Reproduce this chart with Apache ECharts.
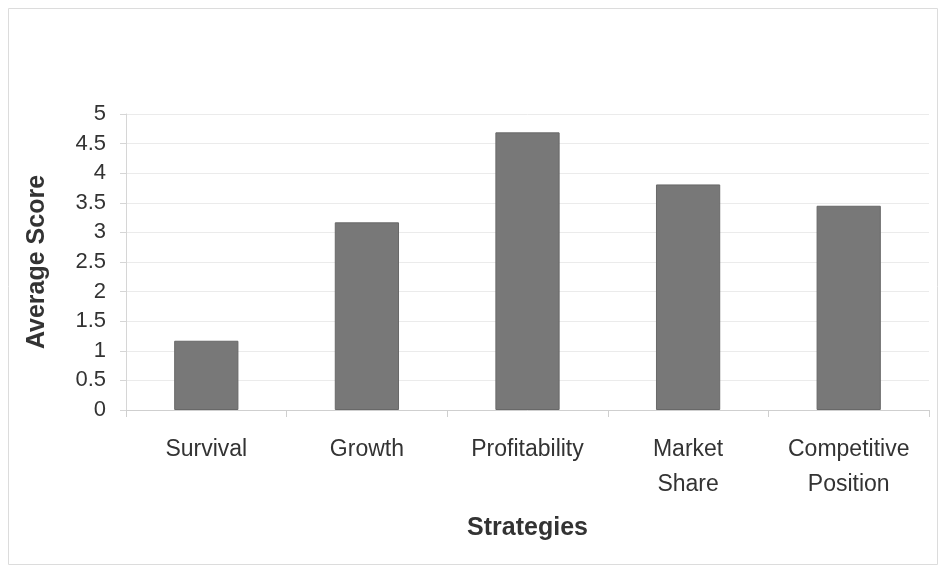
<!DOCTYPE html>
<html>
<head>
<meta charset="utf-8">
<script src="https://cdn.jsdelivr.net/npm/echarts@6/dist/echarts.min.js"></script>
<style>
  html, body { margin: 0; padding: 0; background: #ffffff; }
  #chart { width: 939px; height: 566px; }
</style>
</head>
<body>
<div id="chart"></div>
<script>
// Strategy categories and their average scores
const categories = ['Survival', 'Growth', 'Profitability', 'Market\nShare', 'Competitive\nPosition'];
const averageScores = [1.17, 3.17, 4.69, 3.81, 3.45];
const yTickLabels = ['0', '0.5', '1', '1.5', '2', '2.5', '3', '3.5', '4', '4.5', '5'];

const FONT = '"Liberation Sans", Arial, sans-serif';
const TEXT = '#333333';

const chart = echarts.init(document.getElementById('chart'), null, { renderer: 'canvas' });

chart.setOption({
  backgroundColor: '#ffffff',
  animation: false,
  graphic: [{
    type: 'rect',
    left: 6, top: 6,
    shape: { width: 929, height: 556 },
    style: { fill: 'none', stroke: '#dcdcdc', lineWidth: 1 },
    z: -1
  }],
  grid: { left: 126, right: 10, top: 114, bottom: 156, containLabel: false },
  xAxis: {
    type: 'category',
    data: categories,
    name: 'Strategies',
    nameLocation: 'middle',
    nameGap: 106,
    nameTextStyle: { fontFamily: FONT, fontSize: 25, fontWeight: 'bold', color: TEXT },
    axisLine: { show: true, lineStyle: { color: '#cfcfcf', width: 1 } },
    axisTick: { show: true, alignWithLabel: false, length: 7, lineStyle: { color: '#cfcfcf' } },
    axisLabel: {
      fontFamily: FONT, fontSize: 23, color: TEXT, margin: 22, lineHeight: 35, interval: 0
    },
    splitLine: { show: false }
  },
  yAxis: {
    type: 'value',
    min: 0, max: 5, interval: 0.5,
    name: 'Average Score',
    nameLocation: 'middle',
    nameGap: 76,
    nameRotate: 90,
    nameTextStyle: { fontFamily: FONT, fontSize: 25, fontWeight: 'bold', color: TEXT },
    axisLine: { show: true, lineStyle: { color: '#d6d6d6', width: 1 } },
    axisTick: { show: true, length: 6, lineStyle: { color: '#d6d6d6' } },
    axisLabel: {
      fontFamily: FONT, fontSize: 22, color: TEXT, margin: 20,
      formatter: (v) => yTickLabels[Math.round(v * 2)]
    },
    splitLine: { show: true, lineStyle: { color: '#ebebeb', width: 1 } }
  },
  series: [{
    type: 'bar',
    data: averageScores,
    barWidth: '40%',
    itemStyle: { color: '#787878', borderColor: '#686868', borderWidth: 1 }
  }]
});
</script>
</body>
</html>
